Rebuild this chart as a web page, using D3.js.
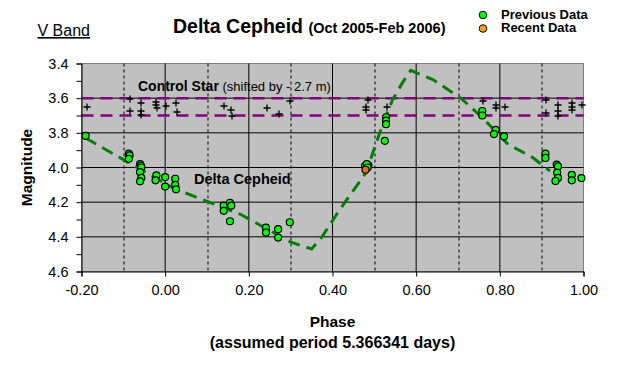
<!DOCTYPE html>
<html>
<head>
<meta charset="utf-8">
<script src="https://cdn.jsdelivr.net/npm/d3@7"></script>
<style>
  body { margin: 0; background: #fff; }
  text { font-family: "Liberation Sans", Arial, sans-serif; }
</style>
</head>
<body>
<div id="chart"></div>
<script>
// Delta Cepheid observations, previous data (phase, magnitude).
const prevPhase = [-0.190,
  -0.087, -0.085, -0.087,
  -0.060, -0.058, -0.057, -0.060, -0.057, -0.060,
  -0.021, -0.023, 0.000, 0.000, 0.024, 0.024, 0.026,
  0.140, 0.155, 0.158, 0.140, 0.155,
  0.241, 0.241, 0.270, 0.270, 0.298,
  0.478, 0.486, 0.482, 0.484,
  0.528, 0.528, 0.528, 0.525,
  0.758, 0.758, 0.790, 0.786, 0.810,
  0.909, 0.909, 0.936, 0.939, 0.937, 0.939, 0.933, 0.972, 0.972, 0.995];
const prevMag = [3.817,
  3.92, 3.93, 3.95,
  3.98, 3.99, 4.00, 4.027, 4.06, 4.08,
  4.046, 4.074, 4.055, 4.11, 4.065, 4.10, 4.126,
  4.22, 4.204, 4.22, 4.25, 4.31,
  4.347, 4.375, 4.356, 4.404, 4.316,
  3.99, 3.989, 3.98, 4.00,
  3.71, 3.73, 3.75, 3.846,
  3.674, 3.70, 3.783, 3.807, 3.82,
  3.92, 3.945, 3.983, 3.994, 4.03, 4.06, 4.078, 4.042, 4.074, 4.061];

// Recent data.
const recentPhase = [0.479];
const recentMag = [4.013];

// Control star (shifted by -2.7 m).
const ctrlPhase = [-0.188, -0.085, -0.085, -0.060, -0.060, -0.059,
  -0.024, -0.024, -0.021, 0.000, 0.024, 0.026, 0.139, 0.157, 0.159,
  0.243, 0.270, 0.298, 0.484, 0.480, 0.478, 0.528,
  0.758, 0.790, 0.790, 0.810, 0.909, 0.909, 0.939, 0.939, 0.939,
  0.972, 0.972, 0.972, 0.996];
const ctrlMag = [3.65, 3.604, 3.67, 3.627, 3.674, 3.693,
  3.617, 3.636, 3.655, 3.642, 3.623, 3.678, 3.642, 3.665, 3.70,
  3.655, 3.688, 3.611, 3.607, 3.646, 3.665, 3.65,
  3.611, 3.636, 3.655, 3.646, 3.607, 3.68, 3.636, 3.674, 3.699,
  3.627, 3.646, 3.665, 3.636];

// Light curve fit (dashed green).
const fitPhase = [-0.19, 0.02, 0.18, 0.30, 0.35, 0.375, 0.41, 0.433, 0.48,
  0.52, 0.544, 0.567, 0.587, 0.64, 0.706, 0.758, 0.82, 0.877, 0.92];
const fitMag = [3.83, 4.12, 4.27, 4.43, 4.47, 4.40, 4.27, 4.19, 4.03,
  3.75, 3.607, 3.512, 3.44, 3.493, 3.598, 3.712, 3.867, 3.94, 4.02];

// Control star band limits.
const bandMags = [3.6, 3.7];

// Axis ticks.
const xTicks = [-0.2, 0.0, 0.2, 0.4, 0.6, 0.8, 1.0];
const xMinor = [-0.1, 0.1, 0.3, 0.5, 0.7, 0.9];
const yTicks = [3.4, 3.6, 3.8, 4.0, 4.2, 4.4, 4.6];
const yMinor = [3.5, 3.7, 3.9, 4.1, 4.3, 4.5];

const margin = { top: 63.5, right: 34.5, bottom: 93.5, left: 81.5 },
  width = 618 - margin.left - margin.right,
  height = 365 - margin.top - margin.bottom;

const root = d3.select('#chart').append('svg')
  .attr('width', 618)
  .attr('height', 365);

const svg = root.append('g')
  .attr('transform', 'translate(' + margin.left + ',' + margin.top + ')');

const x = d3.scaleLinear().domain([-0.2, 1.0]).range([0, width]);
const y = d3.scaleLinear().domain([3.4, 4.6]).range([0, height]);

// Plot area
svg.append('rect')
  .attr('width', width)
  .attr('height', height)
  .attr('fill', '#c0c0c0')
  .attr('stroke', '#808080');

// Gridlines
svg.append('g').selectAll('line')
  .data(yTicks.slice(1, -1))
  .join('line')
  .attr('x1', 0).attr('x2', width)
  .attr('y1', d => y(d)).attr('y2', d => y(d))
  .attr('stroke', '#000');

svg.append('g').selectAll('line')
  .data(xTicks.slice(1, -1))
  .join('line')
  .attr('x1', d => x(d)).attr('x2', d => x(d))
  .attr('y1', 0).attr('y2', height)
  .attr('stroke', '#000');

svg.append('g').selectAll('line')
  .data(xMinor)
  .join('line')
  .attr('x1', d => Math.round(x(d)) + 0.5).attr('x2', d => Math.round(x(d)) + 0.5)
  .attr('y1', 0).attr('y2', height)
  .attr('stroke', '#000')
  .attr('stroke-dasharray', '3,3');

// Control star band
svg.append('g').selectAll('line')
  .data(bandMags)
  .join('line')
  .attr('x1', 0).attr('x2', width)
  .attr('y1', d => y(d)).attr('y2', d => y(d))
  .attr('stroke', '#800080')
  .attr('stroke-width', 2.5)
  .attr('stroke-dasharray', '12,7');

// Fit curve
const fit = fitPhase.map((p, i) => [p, fitMag[i]]);
svg.append('path')
  .datum(fit)
  .attr('fill', 'none')
  .attr('stroke', '#008000')
  .attr('stroke-width', 3)
  .attr('stroke-dasharray', '12,7')
  .attr('d', d3.line().x(d => x(d[0])).y(d => y(d[1])));

// Control star crosses
const cross = ctrlPhase.map((p, i) => [p, ctrlMag[i]]);
svg.append('g').selectAll('path')
  .data(cross)
  .join('path')
  .attr('d', d => {
    const cx = Math.round(x(d[0])) + 0.5, cy = Math.round(y(d[1])) + 0.5;
    return 'M' + (cx - 3.5) + ',' + cy + 'H' + (cx + 3.5) +
      'M' + cx + ',' + (cy - 3.5) + 'V' + (cy + 3.5);
  })
  .attr('stroke', '#000')
  .attr('stroke-width', 1.3);

// Data points
const prev = prevPhase.map((p, i) => [p, prevMag[i]]);
svg.append('g').selectAll('circle')
  .data(prev)
  .join('circle')
  .attr('cx', d => x(d[0]))
  .attr('cy', d => y(d[1]))
  .attr('r', 3.5)
  .attr('fill', '#00ff00')
  .attr('stroke', '#000')
  .attr('stroke-width', 1.2);

const recent = recentPhase.map((p, i) => [p, recentMag[i]]);
svg.append('g').selectAll('circle')
  .data(recent)
  .join('circle')
  .attr('cx', d => x(d[0]))
  .attr('cy', d => y(d[1]))
  .attr('r', 3.5)
  .attr('fill', '#ff6a00')
  .attr('stroke', '#000')
  .attr('stroke-width', 1.2);

// In-plot labels
const ctrlLabel = svg.append('text')
  .attr('x', x(-0.065))
  .attr('y', y(3.56))
  .attr('font-size', 14)
  .attr('fill', '#000');
ctrlLabel.append('tspan').attr('font-weight', 'bold').text('Control Star');
ctrlLabel.append('tspan').attr('font-size', 13).text(' (shifted by - 2.7 m)');

svg.append('text')
  .attr('x', x(0.069))
  .attr('y', y(4.097))
  .attr('font-size', 14.5)
  .attr('font-weight', 'bold')
  .text('Delta Cepheid');

// Axes
svg.append('g')
  .call(d3.axisLeft(y).tickValues(yTicks).tickFormat(d => d.toFixed(1))
    .tickSize(5).tickPadding(8));
svg.append('g')
  .call(d3.axisLeft(y).tickValues(yMinor).tickFormat('').tickSize(5))
  .select('.domain').remove();

svg.append('g')
  .attr('transform', 'translate(0,' + height + ')')
  .call(d3.axisBottom(x).tickValues(xTicks).tickFormat(d => d.toFixed(2))
    .tickSize(5).tickPadding(8));

svg.selectAll('.tick text')
  .attr('font-size', 14.5)
  .attr('font-family', '"Liberation Sans", Arial, sans-serif')
  .attr('fill', '#000');
svg.selectAll('.domain, .tick line').attr('stroke', '#000');

// Axis titles
root.append('text')
  .attr('transform', 'translate(32,' + (margin.top + height / 2) + ') rotate(-90)')
  .attr('text-anchor', 'middle')
  .attr('font-size', 15.5)
  .attr('font-weight', 'bold')
  .text('Magnitude');

root.append('text')
  .attr('x', margin.left + width / 2)
  .attr('y', 327)
  .attr('text-anchor', 'middle')
  .attr('font-size', 15.5)
  .attr('font-weight', 'bold')
  .text('Phase');

root.append('text')
  .attr('x', margin.left + width / 2)
  .attr('y', 347.5)
  .attr('text-anchor', 'middle')
  .attr('font-size', 16)
  .attr('font-weight', 'bold')
  .text('(assumed period 5.366341 days)');

// Title
const title = root.append('text')
  .attr('x', 173)
  .attr('y', 32.7);
title.append('tspan').attr('font-size', 19.5).attr('font-weight', 'bold').text('Delta Cepheid ');
title.append('tspan').attr('font-size', 14.5).attr('font-weight', 'bold').text('(Oct 2005-Feb 2006)');

root.append('text')
  .attr('x', 37.5)
  .attr('y', 36)
  .attr('font-size', 16)
  .attr('text-decoration', 'underline')
  .text('V Band');

// Legend
const legendItems = ['Previous Data', 'Recent Data'];
const legendColors = ['#00ff00', '#f7a21b'];
const legend = root.append('g').selectAll('g')
  .data(legendItems)
  .join('g')
  .attr('transform', (d, i) => 'translate(483,' + (15 + i * 13.5) + ')');
legend.append('circle')
  .attr('r', 3.8)
  .attr('fill', (d, i) => legendColors[i])
  .attr('stroke', '#000')
  .attr('stroke-width', 1);
legend.append('text')
  .attr('x', 18)
  .attr('y', 3.5)
  .attr('font-size', 13)
  .attr('font-weight', 'bold')
  .text(d => d);
</script>
</body>
</html>
